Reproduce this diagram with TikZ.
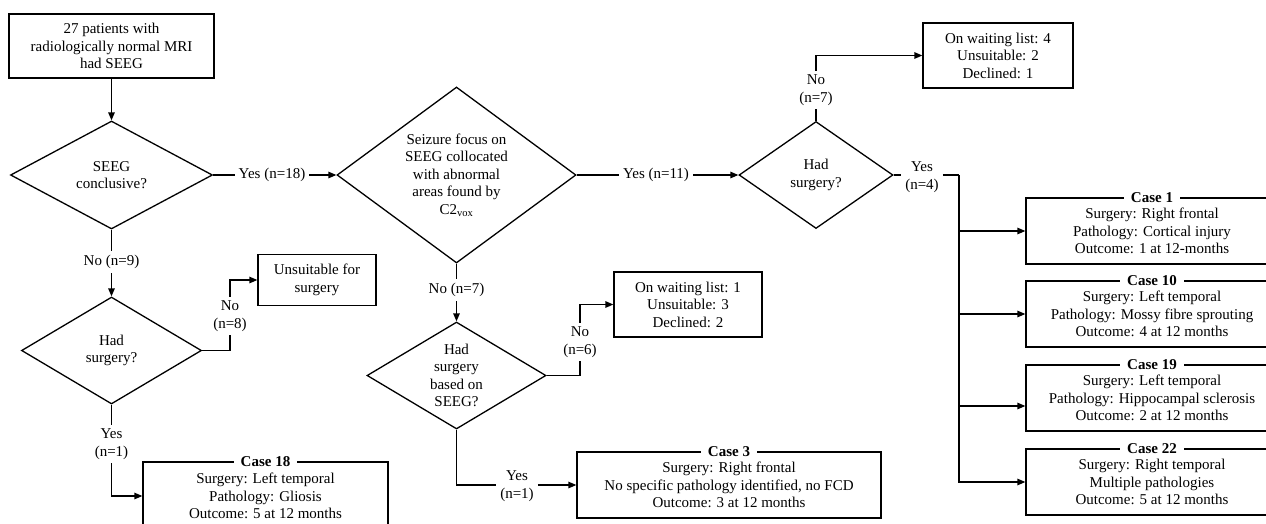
\documentclass[tikz,border=0pt]{standalone}
\usepackage{fontspec}
\setmainfont{Liberation Serif}
\usetikzlibrary{shapes.geometric,arrows.meta}
\begin{document}
\begin{tikzpicture}[x=1pt,y=-1pt,
  every node/.style={font=\fontsize{15}{17.5}\selectfont},
  line/.style={line width=1.3pt},
  arr/.style={line width=1.3pt,-{Triangle[length=8pt,width=6.5pt]}},
  box/.style={draw,line width=1.3pt,rectangle,align=center,inner sep=0pt},
  dia/.style={draw,line width=1.3pt,diamond,align=center,inner sep=0pt},
  lab/.style={align=center,inner sep=4pt},
  casetitle/.style={fill=white,inner xsep=7pt,inner ysep=0pt,font=\fontsize{15}{17.5}\selectfont\bfseries}
]
\useasboundingbox (0,0) rectangle (1266,523);
\clip (0,0) rectangle (1266,523);

% main nodes
\node[box,minimum width=205pt,minimum height=64pt] (start) at (111.5,46) {27 patients with\\radiologically normal MRI\\had SEEG};
\node[dia,minimum width=202pt,minimum height=108pt] (d1) at (111.5,175) {SEEG\\conclusive?};
\node[dia,minimum width=239pt,minimum height=176pt,aspect=1.36] (d2) at (456.5,175) {Seizure focus on\\SEEG collocated\\with abnormal\\areas found by\\C2\textsubscript{vox}};
\node[dia,minimum width=154pt,minimum height=107pt] (d3) at (816,175) {Had\\surgery?};
\node[box,minimum width=150pt,minimum height=65pt] (wl4) at (998,55.5) {On waiting list: 4\\Unsuitable: 2\\Declined: 1};
\node[dia,minimum width=180pt,minimum height=107pt] (d5) at (111.5,350.5) {Had\\surgery?};
\node[box,minimum width=118pt,minimum height=51pt] (uns) at (317,280) {Unsuitable for\\surgery};
\node[dia,minimum width=179pt,minimum height=107pt,aspect=1.67] (d4) at (456.5,375.5) {Had\\surgery\\based on\\SEEG?};
\node[box,minimum width=148pt,minimum height=65pt] (wl1) at (688,304.5) {On waiting list: 1\\Unsuitable: 3\\Declined: 2};

% case boxes
\node[box,minimum width=304pt,minimum height=66pt] (c3) at (729,485) {Surgery: Right frontal\\No specific pathology identified, no FCD\\Outcome: 3 at 12 months};
\node[casetitle] at (c3.north) {Case 3};
\node[box,minimum width=245pt,minimum height=68pt] (c18) at (265.5,496) {Surgery: Left temporal\\Pathology: Gliosis\\Outcome: 5 at 12 months};
\node[casetitle] at (c18.north) {Case 18};
\node[box,minimum width=252pt,minimum height=66pt] (c1) at (1152,231) {Surgery: Right frontal\\Pathology: Cortical injury\\Outcome: 1 at 12-months};
\node[casetitle] at (c1.north) {Case 1};
\node[box,minimum width=252pt,minimum height=66pt] (c10) at (1152,314) {Surgery: Left temporal\\Pathology: Mossy fibre sprouting\\Outcome: 4 at 12 months};
\node[casetitle] at (c10.north) {Case 10};
\node[box,minimum width=252pt,minimum height=66pt] (c19) at (1152,398) {Surgery: Left temporal\\Pathology: Hippocampal sclerosis\\Outcome: 2 at 12 months};
\node[casetitle] at (c19.north) {Case 19};
\node[box,minimum width=252pt,minimum height=66pt] (c22) at (1152,482) {Surgery: Right temporal\\Multiple pathologies\\Outcome: 5 at 12 months};
\node[casetitle] at (c22.north) {Case 22};

% connector labels
\node[lab] (y18) at (272,175) {Yes (n=18)};
\node[lab] (y11) at (656,175) {Yes (n=11)};
\node[lab] (n7a) at (816,90) {No\\(n=7)};
\node[lab] (y4) at (922,177) {Yes\\(n=4)};
\node[lab] (n9) at (111.5,262) {No (n=9)};
\node[lab] (n8) at (230,316) {No\\(n=8)};
\node[lab] (y1a) at (111.5,444) {Yes\\(n=1)};
\node[lab] (n7b) at (456.5,290) {No (n=7)};
\node[lab] (n6) at (580,342) {No\\(n=6)};
\node[lab] (y1b) at (517,486) {Yes\\(n=1)};
\coordinate (bt) at (959,175);

% connectors
\draw[arr] (start.south) -- (d1.north);
\draw[line] (d1.east) -- (y18.west);
\draw[arr] (y18.east) -- (d2.west);
\draw[line] (d2.east) -- (y11.west);
\draw[arr] (y11.east) -- (d3.west);
\draw[line] (d3.north) -- (n7a.south);
\draw[arr] (n7a.north) |- (wl4.west);
\draw[line] (d3.east) -- (d3.east -| y4.west);
\draw[line] (y4.east |- d3.east) -- (bt);
\draw[arr] (bt) |- (c22.west);
\draw[arr] (bt |- c1.west) -- (c1.west);
\draw[arr] (bt |- c10.west) -- (c10.west);
\draw[arr] ([yshift=-8pt]bt |- c19.west) -- ([yshift=-8pt]c19.west);
\draw[line] (d1.south) -- (n9.north);
\draw[arr] (n9.south) -- (d5.north);
\draw[line] (d5.east) -| (n8.south);
\draw[arr] (n8.north) |- (uns.west);
\draw[line] (d5.south) -- (y1a.north);
\draw[arr] (y1a.south) |- (c18.west);
\draw[line] (d2.south) -- (n7b.north);
\draw[arr] (n7b.south) -- (d4.north);
\draw[line] (d4.east) -| (n6.south);
\draw[arr] (n6.north) |- (wl1.west);
\draw[line] (d4.south) |- (y1b.west |- c3.west);
\draw[arr] (y1b.east |- c3.west) -- (c3.west);
\end{tikzpicture}
\end{document}
